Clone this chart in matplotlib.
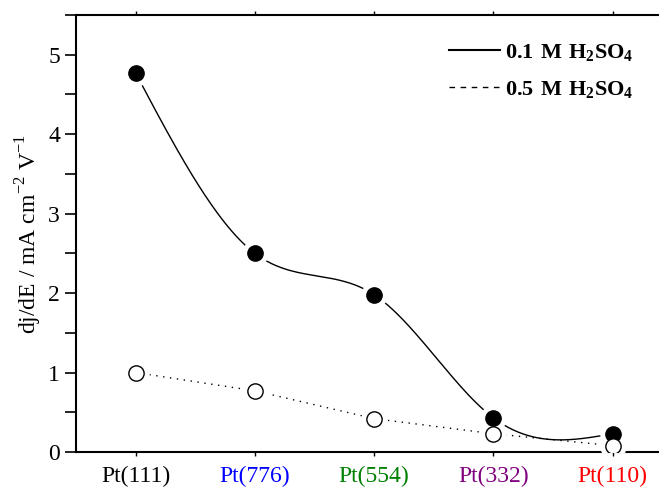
import numpy as np
import matplotlib
matplotlib.use("Agg")
import matplotlib.pyplot as plt
from matplotlib.ticker import MultipleLocator

plt.rcParams['font.family'] = ['Liberation Serif', 'DejaVu Serif']
plt.rcParams['mathtext.fontset'] = 'custom'
plt.rcParams['mathtext.rm'] = 'Liberation Serif'
plt.rcParams['mathtext.bf'] = 'Liberation Serif:bold'

facets = ['Pt(111)', 'Pt(776)', 'Pt(554)', 'Pt(332)', 'Pt(110)']
facet_colors = ['black', 'blue', 'green', 'purple', 'red']
rate_01M = [4.77, 2.50, 1.98, 0.43, 0.23]
rate_05M = [1.00, 0.77, 0.42, 0.23, 0.08]


def natural_spline(x, y, xs):
    # natural cubic spline, no scipy needed
    x = np.asarray(x, float)
    y = np.asarray(y, float)
    n = len(x)
    h = np.diff(x)
    A = np.zeros((n, n))
    b = np.zeros(n)
    A[0, 0] = A[-1, -1] = 1
    for i in range(1, n - 1):
        A[i, i - 1] = h[i - 1]
        A[i, i] = 2 * (h[i - 1] + h[i])
        A[i, i + 1] = h[i]
        b[i] = 6 * ((y[i + 1] - y[i]) / h[i] - (y[i] - y[i - 1]) / h[i - 1])
    M = np.linalg.solve(A, b)
    out = np.empty_like(xs)
    for k, t in enumerate(xs):
        i = min(max(np.searchsorted(x, t) - 1, 0), n - 2)
        a, c = x[i + 1] - t, t - x[i]
        out[k] = (M[i] * a**3 + M[i + 1] * c**3) / (6 * h[i]) \
            + (y[i] / h[i] - M[i] * h[i] / 6) * a \
            + (y[i + 1] / h[i] - M[i + 1] * h[i] / 6) * c
    return out


x = np.arange(len(facets))
xs = np.linspace(0, len(facets) - 1, 400)

fig = plt.figure(figsize=(6.59, 4.88), dpi=100)
ax = fig.add_axes([76 / 659, 36 / 488, 1 - 76 / 659 + 0.02, (452 - 15) / 488])

ax.plot(xs, natural_spline(x, rate_01M, xs), color='black', lw=1.0, zorder=2)
ax.plot(x, rate_05M, color='black', lw=1.0, ls=(0, (1, 4)), zorder=2)

# white halo so the lines stop short of the symbols
ax.plot(x, rate_01M, 'o', ms=18, color='white', zorder=3)
ax.plot(x, rate_05M, 'o', ms=18, color='white', zorder=3)
ax.plot(x, rate_01M, 'o', ms=11, mfc='black', mec='black', zorder=4)
ax.plot(x, rate_05M, 'o', ms=11, mfc='white', mec='black', mew=1.0, zorder=4)

ax.set_xlim(-0.5, 4.5)
ax.set_ylim(0, 5.5)
ax.set_xticks(x)
ax.set_xticklabels(facets, fontsize=17)
for lab, c in zip(ax.get_xticklabels(), facet_colors):
    lab.set_color(c)
ax.yaxis.set_major_locator(MultipleLocator(1))
ax.yaxis.set_minor_locator(MultipleLocator(0.5))
ax.tick_params(axis='y', which='both', direction='out', length=8, width=1.2, labelsize=17)
ax.tick_params(axis='x', which='both', direction='out', length=3, width=1, pad=7, top=True)
for s in ['left', 'bottom', 'top']:
    ax.spines[s].set_linewidth(1.5)
ax.spines['right'].set_visible(False)

ax.set_ylabel(r'dj/dE / mA cm$^{-2}$ V$^{-1}$', fontsize=17, labelpad=3)

h1, = ax.plot([], [], color='black', lw=1.5)
h2, = ax.plot([], [], color='black', lw=1.0, ls=(0, (4, 4)))
ax.legend([h1, h2], [r'$\mathbf{0.1\ M\ H_2SO_4}$', r'$\mathbf{0.5\ M\ H_2SO_4}$'],
          loc='upper right', bbox_to_anchor=(0.968, 0.985), frameon=False,
          fontsize=16, handlelength=2.3, handletextpad=0.2, labelspacing=0.75)

fig.savefig('out.png', dpi=100)
